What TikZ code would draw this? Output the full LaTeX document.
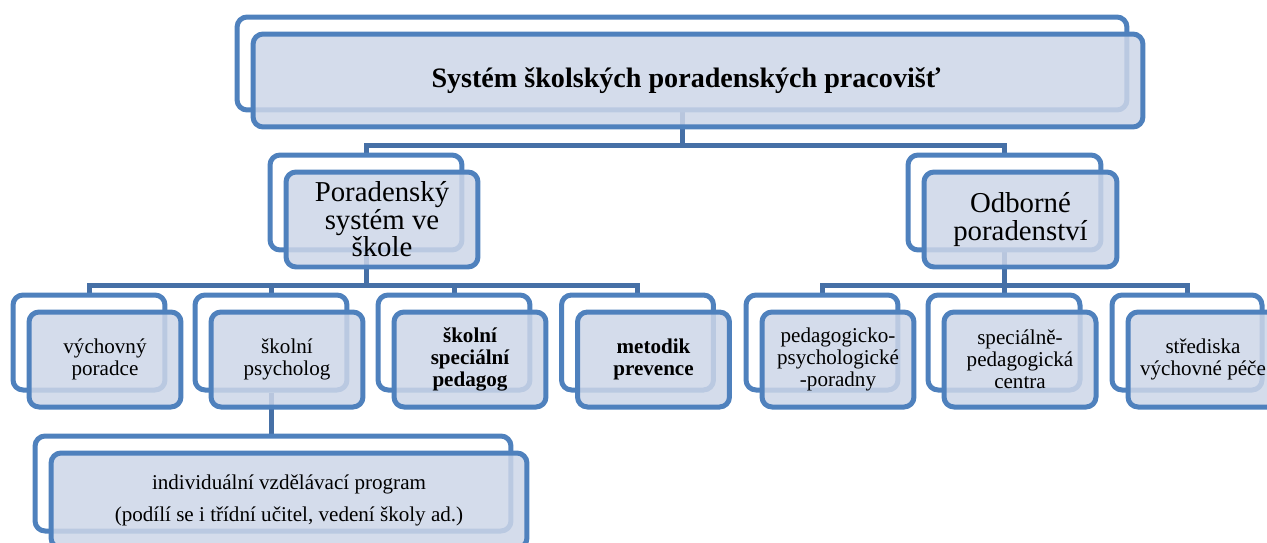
\documentclass[tikz,border=0pt]{standalone}
\usepackage{fontspec}
\setmainfont{Liberation Serif}
\definecolor{boxline}{RGB}{79,129,189}
\definecolor{boxfill}{RGB}{205,214,232}
\definecolor{linkline}{RGB}{70,112,166}
\pgfdeclarelayer{background}
\pgfdeclarelayer{foreground}
\pgfsetlayers{background,main,foreground}
\tikzset{
  backbox/.style={draw=boxline, line width=0.1cm, rounded corners=0.2cm, fill=white, minimum height=1.9cm, inner sep=0pt},
  frontbox/.style={backbox, fill=boxfill, fill opacity=0.85, text opacity=1, align=center},
  link/.style={draw=linkline, line width=0.1cm},
  lvltwo/.style={font=\fontsize{16.4}{15.6}\selectfont},
  lvlthree/.style={font=\fontsize{12}{12.4}\selectfont},
}

\begin{document}
\begin{tikzpicture}[x=0.02cm,y=-0.02cm]
\useasboundingbox (0,0) rectangle (1267,542);
% back boxes
\node[backbox, minimum width=17.8cm, minimum height=1.86cm] (sysB) at (682,63.5) {};
\node[backbox, minimum width=3.84cm] (poraB) at (366,202.5) {};
\node[backbox, minimum width=3.86cm] (odbB) at (1004.5,202.5) {};
\node[backbox, minimum width=3.04cm] (vychB) at (89,342.5) {};
\node[backbox, minimum width=3.04cm] (psyB) at (271,342.5) {};
\node[backbox, minimum width=3.04cm] (spedB) at (454,342.5) {};
\node[backbox, minimum width=3.04cm] (metB) at (637.5,342.5) {};
\node[backbox, minimum width=3.04cm] (ppporB) at (822,342.5) {};
\node[backbox, minimum width=3.04cm] (spcB) at (1004,342.5) {};
\node[backbox, minimum width=3.0cm] (svpB) at (1187,342.5) {};
\node[backbox, minimum width=9.52cm] (ivpB) at (273,483.5) {};
\begin{pgfonlayer}{foreground}
\node[frontbox, minimum width=17.8cm, minimum height=1.86cm, font=\fontsize{16}{18}\selectfont\bfseries] (sysF) at ([shift={(16,17)}]sysB.center) {Systém školských poradenských pracovišť\hspace*{0.48cm}};
\node[frontbox, lvltwo, minimum width=3.84cm] (poraF) at ([shift={(16,17)}]poraB.center) {Poradenský\\systém ve\\škole};
\node[frontbox, lvltwo, minimum width=3.86cm] (odbF) at ([shift={(16,17)}]odbB.center) {Odborné\\poradenství};
\node[frontbox, lvlthree, minimum width=3.04cm] (vychF) at ([shift={(16,17)}]vychB.center) {výchovný\\poradce};
\node[frontbox, lvlthree, minimum width=3.04cm] (psyF) at ([shift={(16,17)}]psyB.center) {školní\\psycholog};
\node[frontbox, lvlthree, minimum width=3.04cm, font=\fontsize{12}{12.4}\selectfont\bfseries] (spedF) at ([shift={(16,17)}]spedB.center) {školní\\speciální\\pedagog};
\node[frontbox, lvlthree, minimum width=3.04cm, font=\fontsize{12}{12.4}\selectfont\bfseries] (metF) at ([shift={(16,17)}]metB.center) {metodik\\prevence};
\node[frontbox, lvlthree, minimum width=3.04cm] (ppporF) at ([shift={(16,17)}]ppporB.center) {pedagogicko-\\psychologické\\-poradny};
\node[frontbox, lvlthree, minimum width=3.04cm] (spcF) at ([shift={(16,17)}]spcB.center) {speciálně-\\pedagogická\\centra};
\node[frontbox, lvlthree, minimum width=3.0cm] (svpF) at ([shift={(16,17)}]svpB.center) {střediska\\výchovné péče};
\node[frontbox, minimum width=9.52cm, font=\fontsize{12}{18.6}\selectfont] (ivpF) at ([shift={(16,17)}]ivpB.center) {individuální vzdělávací program\\(podílí se i třídní učitel, vedení školy ad.)};
\end{pgfonlayer}
% connectors
\begin{pgfonlayer}{background}
\draw[link] (sysB.south) -- ++(0,33) -| (poraB.north);
\draw[link] (sysB.south) -- ++(0,33) -| (odbB.north);
\draw[link] (poraB.south) -- ++(0,33) -| (vychB.north);
\draw[link] (poraB.south) -- ++(0,33) -| (psyB.north);
\draw[link] (poraB.south) -- ++(0,33) -| (spedB.north);
\draw[link] (poraB.south) -- ++(0,33) -| (metB.north);
\draw[link] (odbB.south) -- ++(0,33) -| (ppporB.north);
\draw[link] (odbB.south) -- ++(0,33) -| (spcB.north);
\draw[link] (odbB.south) -- ++(0,33) -| (svpB.north);
\draw[link] (psyB.south) -- (psyB.south |- ivpB.north);
\end{pgfonlayer}
\end{tikzpicture}
\end{document}
